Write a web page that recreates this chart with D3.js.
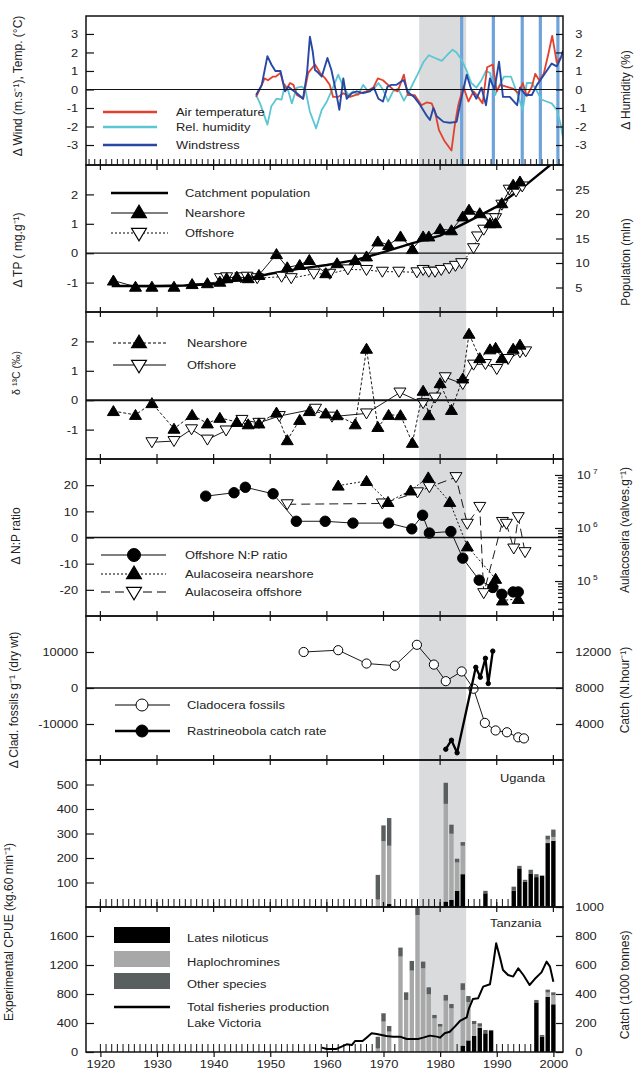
<!DOCTYPE html>
<html lang="en">
<head>
<meta charset="UTF-8">
<title>Lake Victoria records</title>
<script src="https://d3js.org/d3.v7.min.js"></script>
<style>
  body { margin: 0; background: #fff; }
  svg { display: block; font-family: "Liberation Sans", Arial, sans-serif; }
  .axis path { display: none; }
  .axis line { stroke: #111; stroke-width: 1.2px; }
  .axis text { font-size: 11.5px; fill: #222; font-family: "Liberation Sans", Arial, sans-serif; }
  text { fill: #222; }
</style>
</head>
<body>
<script>
// ---------- data ----------
const decades = [1920, 1930, 1940, 1950, 1960, 1970, 1980, 1990, 2000];
const shade = [1976.3, 1984.6];
const blueYears = [1983.8, 1989.4, 1994.5, 1997.7, 2000.8];

const airTemp = [[1947.5,-0.4],[1948.3,0.1],[1949.0,0.6],[1949.6,0.5],[1950.5,0.7],[1951.0,0.7],[1951.8,0.9],[1952.3,0.35],[1952.9,0.05],[1953.5,0.35],[1954.1,0.25],[1954.7,-0.3],[1955.8,-0.5],[1956.7,0.9],[1957.9,1.35],[1958.8,0.9],[1959.7,0.6],[1960.5,0.25],[1961.1,-0.4],[1962.0,-0.4],[1962.9,-0.2],[1964.1,-0.4],[1965.0,-0.3],[1966.0,-0.2],[1967.0,-0.1],[1968.2,0.1],[1969.0,0.6],[1969.9,0.5],[1970.8,0.25],[1971.7,0.0],[1972.5,-0.1],[1973.6,0.8],[1974.3,-0.3],[1975.5,-0.3],[1976.7,-0.85],[1977.6,-0.7],[1978.5,-0.75],[1979.1,-1.2],[1979.8,-2.2],[1980.8,-2.8],[1982.0,-3.3],[1982.6,-1.9],[1983.2,-0.85],[1984.1,0.15],[1985.0,-0.65],[1985.9,-0.1],[1986.7,-0.4],[1987.5,-0.75],[1988.3,1.2],[1989.3,1.35],[1990.0,-0.1],[1990.6,0.25],[1991.7,0.15],[1992.9,0.05],[1993.8,-0.2],[1994.6,0.35],[1995.3,-0.35],[1996.2,0.15],[1996.8,0.85],[1997.5,0.5],[1998.3,0.85],[1999.1,1.9],[1999.8,2.9],[2000.6,1.45],[2001.2,1.7]];
const relHumidity = [[1947.5,-0.3],[1948.2,-0.75],[1949.5,-1.9],[1950.2,-0.9],[1951.1,-0.5],[1952.0,-0.55],[1952.6,0.25],[1953.2,-0.1],[1953.8,-0.75],[1954.7,0.1],[1955.6,0.15],[1956.2,0.0],[1957.0,-1.2],[1958.1,-2.1],[1959.1,-1.1],[1960.0,-0.65],[1961.0,0.05],[1962.0,0.8],[1962.9,0.15],[1963.8,-0.3],[1964.7,-0.1],[1965.5,-0.3],[1966.4,0.25],[1967.3,-0.1],[1968.2,0.0],[1969.1,0.35],[1969.9,0.0],[1970.8,-0.65],[1971.7,-0.1],[1972.6,0.05],[1973.6,-0.6],[1974.7,0.0],[1975.5,0.5],[1976.0,0.8],[1977.1,1.5],[1978.0,1.85],[1979.1,1.7],[1980.3,1.55],[1981.2,1.85],[1982.2,2.15],[1982.9,2.0],[1983.8,1.6],[1984.7,1.0],[1985.5,0.35],[1986.4,0.1],[1987.3,0.5],[1988.1,1.0],[1988.8,0.9],[1989.7,-0.3],[1990.5,0.25],[1991.3,0.7],[1992.5,0.7],[1993.3,0.05],[1994.6,-1.1],[1995.3,0.35],[1996.2,0.35],[1997.1,-0.1],[1997.9,-0.55],[1998.8,-0.65],[1999.7,-0.75],[2000.6,-1.1],[2001.3,-1.9],[2001.8,-2.8]];
const windStress = [[1947.5,-0.3],[1948.5,0.25],[1949.5,1.8],[1950.2,1.35],[1950.9,1.0],[1951.8,1.0],[1952.6,-0.1],[1953.2,0.15],[1953.8,0.0],[1954.7,-0.2],[1955.8,-0.5],[1956.5,0.9],[1957.0,2.85],[1957.5,2.05],[1957.9,1.05],[1958.5,0.9],[1959.1,0.7],[1960.1,1.7],[1960.8,1.05],[1961.6,-0.1],[1962.2,-1.1],[1962.9,0.6],[1963.5,-0.5],[1964.4,-0.2],[1965.3,-0.1],[1966.4,-0.2],[1967.6,-0.1],[1968.3,0.1],[1969.1,-0.5],[1969.9,-0.65],[1970.7,0.15],[1971.4,0.25],[1972.3,0.25],[1973.2,0.45],[1973.6,0.5],[1974.3,-0.15],[1975.4,-0.4],[1976.5,-0.85],[1977.6,-1.4],[1978.2,-1.65],[1978.8,-1.0],[1979.4,-1.45],[1980.6,-1.75],[1981.7,-1.8],[1982.9,-1.75],[1983.8,-0.4],[1984.7,0.8],[1985.5,0.0],[1986.4,-0.5],[1987.3,0.1],[1988.1,-0.85],[1988.8,0.6],[1989.6,0.0],[1990.4,1.5],[1991.1,-0.4],[1992.3,-0.4],[1993.6,-0.85],[1994.1,0.1],[1995.1,-0.3],[1996.2,-0.3],[1997.1,0.25],[1997.9,0.6],[1998.8,1.0],[1999.7,1.4],[2000.6,1.25],[2001.3,1.7],[2001.7,2.1]];

const popYears = [1922, 1930, 1935, 1940, 1945, 1950, 1955, 1960, 1965, 1970, 1975, 1980, 1985, 1990, 1995, 2000];
const popMln   = [5.3, 5.3, 5.4, 5.7, 6.6, 7.8, 8.8, 9.6, 10.6, 12.2, 14.0, 15.6, 18.5, 21.5, 25.8, 30.5];
const tpNear = [[1922.3,-0.93],[1926.2,-1.14],[1929.1,-1.14],[1933,-1.14],[1936.2,-1.05],[1938.9,-1.02],[1941.1,-0.97],[1942.3,-0.85],[1944.1,-0.8],[1946.1,-0.85],[1948,-0.74],[1951.1,-0.03],[1953,-0.48],[1955.2,-0.4],[1956.9,-0.23],[1959.8,-0.68],[1961.8,-0.34],[1965,-0.23],[1967,-0.11],[1969,0.4],[1970.9,0.28],[1973,0.57],[1975.1,0.14],[1977,0.57],[1978,0.57],[1980,0.82],[1982,0.78],[1984,1.25],[1985.1,1.48],[1987,1.36],[1988.8,1.02],[1989.8,1.02],[1990.9,1.7],[1992.9,2.33],[1994.1,2.44]];
const tpOff = [[1941.2,-0.85],[1942.3,-0.82],[1944.8,-0.82],[1945.9,-0.8],[1947.7,-0.85],[1952,-0.8],[1953.7,-0.85],[1957.7,-0.7],[1960.5,-0.7],[1963.7,-0.55],[1967,-0.57],[1969.8,-0.63],[1972.7,-0.63],[1975.9,-0.65],[1977,-0.57],[1978,-0.63],[1979.1,-0.63],[1980.2,-0.57],[1981.6,-0.51],[1982.7,-0.43],[1983.8,-0.34],[1985.9,0.17],[1986.6,0.57],[1987.7,0.8],[1988.8,1.19],[1989.8,1.19],[1990.9,1.65],[1992.2,2.16],[1993.4,2.1],[1994.5,2.27]];

const c13Near = [[1922.3,-0.37],[1926.2,-0.5],[1929.1,-0.1],[1933,-0.97],[1936.2,-0.5],[1938.9,-0.79],[1941.1,-0.6],[1944.1,-0.74],[1946.1,-0.82],[1948,-0.79],[1951.1,-0.42],[1953,-1.36],[1955.2,-0.67],[1956.9,-0.37],[1959.8,-0.45],[1961.8,-0.51],[1965,-0.82],[1967,1.75],[1969,-0.91],[1970.9,-0.5],[1973,-0.51],[1975.1,-1.45],[1977,0.32],[1978,-0.51],[1980,0.58],[1982,-0.33],[1984,0.74],[1985.1,2.26],[1987,1.43],[1988.8,1.73],[1989.8,1.78],[1990.9,1.43],[1992.9,1.75],[1994.1,1.89]];
const c13Off = [[1929.1,-1.43],[1933,-1.39],[1936.1,-0.99],[1938.9,-1.34],[1942.2,-1.03],[1945,-0.67],[1948,-0.77],[1951.6,-0.54],[1958,-0.29],[1960.9,-0.56],[1967,-0.45],[1972.9,0.26],[1977,-0.1],[1979.1,0.09],[1980.9,0.78],[1984,0.55],[1985.9,1.21],[1988,1.23],[1990,1.06],[1992,1.4],[1994.1,1.63],[1995.1,1.66]];

const npOffshore = [[1938.6,15.8],[1943.6,17.1],[1945.6,19.2],[1950.5,16.7],[1954.6,6.2],[1959.7,6.2],[1964.6,5.5],[1970.9,5.5],[1975,3.3],[1976.9,8.5],[1978.1,1.7],[1981.9,2.3],[1984,-7.9],[1986.9,-16.3],[1989.3,-19.1],[1990.9,-21.7],[1992.9,-20.8],[1993.8,-20.8]];
const aulNear = [[1962,6.3e6],[1967,7.7e6],[1970.8,3.1e6],[1974.8,5.1e6],[1977.9,9.0e6],[1981.7,3.1e6],[1984.8,4.5e5],[1989.8,1.1e5],[1991,4.3e4],[1993.8,4.6e4]];
const aulOff = [[1953,2.8e6],[1969.8,2.9e6],[1976,4.7e6],[1978.1,5.9e6],[1982.8,9.1e6],[1984.8,1.2e6],[1987,2.5e6],[1987.7,5.9e4],[1991,1.3e6],[1991.7,1.2e6],[1993,4.1e5],[1993.8,1.6e6],[1995,3.5e5]];

const cladocera = [[1955.9,10000],[1962,10500],[1967,6800],[1972,6200],[1975.9,12000],[1978.9,6500],[1981,1900],[1983.8,4600],[1985.9,-200],[1987.9,-9700],[1989.8,-11800],[1991.8,-12300],[1993.8,-13700],[1994.8,-14000]];
const rastrineobola = [[1981,1200],[1982,2200],[1983,800],[1986.3,10300],[1987.1,9200],[1988,11300],[1988.5,8500],[1989.3,12100]];

const ugYears = [1969, 1970, 1971, 1981, 1982, 1983, 1984, 1988, 1993, 1994, 1995, 1996, 1997, 1998, 1999, 2000];
const ugLates = [0, 0, 12, 22, 29, 66, 134, 56, 66, 158, 103, 135, 122, 128, 261, 270];
const ugHaplo = [31, 268, 238, 399, 270, 116, 116, 0, 0, 0, 0, 0, 0, 0, 14, 16];
const ugOther = [100, 65, 113, 86, 37, 15, 15, 10, 17, 10, 8, 17, 12, 0, 16, 30];

const tzYears = [1969, 1970, 1971, 1973, 1974, 1975, 1976, 1977, 1978, 1979, 1980, 1981, 1982, 1984, 1985, 1986, 1987, 1988, 1989, 1997, 1998, 1999, 2000];
const tzLates = [0, 0, 0, 0, 0, 0, 0, 0, 0, 0, 0, 0, 0, 87, 160, 225, 336, 258, 290, 685, 212, 760, 658];
const tzHaplo = [50, 419, 281, 1316, 718, 1122, 1890, 1155, 796, 465, 350, 708, 603, 769, 530, 161, 14, 0, 0, 0, 0, 60, 125];
const tzOther = [160, 115, 78, 124, 105, 134, 150, 92, 96, 46, 36, 79, 59, 92, 82, 42, 46, 46, 14, 33, 23, 40, 40];

const fishProd = [[1959.1,30],[1960,21],[1961.7,21],[1962.6,37],[1963.5,53],[1964.4,48],[1965,76],[1966.3,76],[1967,99],[1967.9,129],[1968.8,124],[1970.5,110],[1971.7,106],[1972.9,106],[1974.1,90],[1976.1,90],[1977,99],[1978.2,113],[1979.4,106],[1980,99],[1980.8,129],[1981.7,140],[1982.6,175],[1983.5,214],[1984.7,239],[1985.1,301],[1985.8,366],[1986.7,370],[1987.6,451],[1988.8,467],[1989.4,612],[1989.9,750],[1990.6,646],[1991.1,566],[1992,531],[1992.9,520],[1993.8,577],[1994.7,531],[1995.8,462],[1996.7,503],[1997.9,549],[1998.8,623],[1999.4,589],[2000,485]];

// ---------- layout ----------
const W = 635, H = 1071, L = 86, R = 563;
const rows = [[16,165],[165,312],[312,459],[459,616],[616,760],[760,907],[907,1052]];

const svg = d3.select("body").append("svg").attr("width", W).attr("height", H);
const x = d3.scaleLinear().domain([1917.46, 2001.7]).range([L, R]);

const y1 = d3.scaleLinear().domain([-4.08, 3.97]).range([165, 16]);
const y2 = d3.scaleLinear().domain([-2, 3]).range([312, 165]);
const pop = d3.scaleLinear().domain([0, 30]).range([312, 165]);
const y3 = d3.scaleLinear().domain([-2, 3]).range([459, 312]);
const y4 = d3.scaleLinear().domain([-30, 30]).range([616, 459]);
const aul = d3.scaleLog().domain([21900, 2.0e7]).range([616, 459]);
const y5 = d3.scaleLinear().domain([-20000, 20000]).range([760, 616]);
const catchS = d3.scaleLinear().domain([0, 16000]).range([760, 616]);
const y6 = d3.scaleLinear().domain([0, 600]).range([907, 760]);
const y7 = d3.scaleLinear().domain([0, 2000]).range([1052, 907]);
const prod = d3.scaleLinear().domain([0, 1000]).range([1052, 907]);

const defs = svg.append("defs");
rows.forEach((r, i) => {
    defs.append("clipPath").attr("id", "clip" + i)
        .append("rect").attr("x", L).attr("y", r[0]).attr("width", R - L).attr("height", r[1] - r[0]);
});
const panel = i => svg.append("g").attr("clip-path", `url(#clip${i})`);

// grey period band
svg.append("rect")
    .attr("x", x(shade[0])).attr("width", x(shade[1]) - x(shade[0]))
    .attr("y", rows[0][0]).attr("height", rows[6][1] - rows[0][0])
    .attr("fill", "#d9dbdd");

// helpers
const UP = "M0,-5.5L6,4.5L-6,4.5Z";
const DOWN = "M-6,-4.5L6,-4.5L0,5.5Z";

function drawLine(g, data, ys, stroke, sw, dash) {
    g.append("path").datum(data)
        .attr("d", d3.line().x(d => x(d[0])).y(d => ys(d[1])))
        .attr("fill", "none").attr("stroke", stroke).attr("stroke-width", sw)
        .attr("stroke-dasharray", dash || null).attr("stroke-linejoin", "round");
}
function drawMarks(g, data, ys, shape, fill) {
    g.selectAll(null).data(data).enter().append("path")
        .attr("d", shape).attr("transform", d => `translate(${x(d[0])},${ys(d[1])})`)
        .attr("fill", fill).attr("stroke", "#000").attr("stroke-width", 1);
}
function drawDots(g, data, ys, r, fill) {
    g.selectAll(null).data(data).enter().append("circle")
        .attr("cx", d => x(d[0])).attr("cy", d => ys(d[1])).attr("r", r)
        .attr("fill", fill).attr("stroke", "#000").attr("stroke-width", 1);
}
function zeroLine(ys, sw) {
    svg.append("line").attr("x1", L).attr("x2", R).attr("y1", ys(0)).attr("y2", ys(0))
        .attr("stroke", "#111").attr("stroke-width", sw);
}
function txt(px, py, s, size, anchor) {
    return svg.append("text").attr("transform", `translate(${px},${py}) scale(1.12,1)`)
        .attr("font-size", size || 11.5).attr("text-anchor", anchor || "start").text(s);
}
function vtxt(px, py, s, size) {
    return svg.append("text").attr("transform", `translate(${px},${py}) rotate(-90)`)
        .attr("font-size", size || 12).attr("text-anchor", "middle").text(s);
}
function leftAxis(scale, ticks) {
    svg.append("g").attr("class", "axis").attr("transform", `translate(${L},0)`)
        .call(d3.axisLeft(scale).tickValues(ticks).tickSizeInner(-8).tickSizeOuter(0).tickPadding(7).tickFormat(d => String(d)))
        .selectAll("text").attr("transform", "scale(1.12,1)");
}
function rightAxis(scale, ticks, size) {
    svg.append("g").attr("class", "axis").attr("transform", `translate(${R},0)`)
        .call(d3.axisRight(scale).tickValues(ticks).tickSizeInner(-(size || 7)).tickSizeOuter(0).tickPadding(11).tickFormat(d => String(d)))
        .selectAll("text").attr("transform", "scale(1.12,1)");
}

// ---------- panel 1 : climate ----------
const g1 = panel(0);
blueYears.forEach(b => g1.append("line").attr("x1", x(b)).attr("x2", x(b)).attr("y1", 16).attr("y2", 165)
    .attr("stroke", "#6fa3d9").attr("stroke-width", 3.2));
zeroLine(y1, 1.2);
drawLine(g1, relHumidity, y1, "#5cc6d3", 1.8);
drawLine(g1, airTemp, y1, "#e2412f", 1.8);
drawLine(g1, windStress, y1, "#2748a5", 1.9);

// ---------- panel 2 : TP ----------
const g2 = panel(1);
zeroLine(y2, 1.2);
drawLine(g2, popYears.map((d, i) => [d, popMln[i]]), pop, "#000", 2.4);
drawLine(g2, tpOff, y2, "#000", 0.9, "2,2");
drawMarks(g2, tpOff, y2, DOWN, "#fff");
drawLine(g2, tpNear, y2, "#000", 0.9);
drawMarks(g2, tpNear, y2, UP, "#000");

// ---------- panel 3 : d13C ----------
const g3 = panel(2);
zeroLine(y3, 2);
drawLine(g3, c13Near, y3, "#000", 0.9, "3,2");
drawLine(g3, c13Off, y3, "#000", 0.9);
drawMarks(g3, c13Off, y3, DOWN, "#fff");
drawMarks(g3, c13Near, y3, UP, "#000");

// ---------- panel 4 : N:P and Aulacoseira ----------
const g4 = panel(3);
zeroLine(y4, 1.5);
drawLine(g4, aulOff, aul, "#000", 0.9, "9,5");
drawLine(g4, aulNear, aul, "#000", 0.9, "2,2");
drawLine(g4, npOffshore, y4, "#000", 0.9);
drawDots(g4, npOffshore, y4, 5.2, "#000");
drawMarks(g4, aulOff, aul, DOWN, "#fff");
drawMarks(g4, aulNear, aul, UP, "#000");

// ---------- panel 5 : Cladocera and Rastrineobola ----------
const g5 = panel(4);
zeroLine(y5, 1.5);
drawLine(g5, cladocera, y5, "#000", 0.9);
drawDots(g5, cladocera, y5, 4.6, "#fff");
drawLine(g5, rastrineobola, catchS, "#000", 2.3);
drawDots(g5, rastrineobola, catchS, 2.2, "#000");

// ---------- panels 6/7 : CPUE bars ----------
const barColors = { lates: "#000", haplo: "#a8a8a8", other: "#595e5e" };
function bars(g, ys, years, lates, haplo, other) {
    const bw = 4.4;
    years.forEach((yr, i) => {
        const segs = [["lates", 0, lates[i]], ["haplo", lates[i], lates[i] + haplo[i]],
                      ["other", lates[i] + haplo[i], lates[i] + haplo[i] + other[i]]];
        segs.forEach(s => {
            if (s[2] <= s[1]) return;
            g.append("rect").attr("x", x(yr) - bw / 2).attr("width", bw)
                .attr("y", ys(s[2])).attr("height", ys(s[1]) - ys(s[2]))
                .attr("fill", barColors[s[0]]);
        });
    });
}
function yearTicks(yBase, len, from, to) {
    for (let yr = from; yr <= to; yr++) {
        svg.append("line").attr("x1", x(yr)).attr("x2", x(yr)).attr("y1", yBase).attr("y2", yBase - len)
            .attr("stroke", "#111").attr("stroke-width", 1);
    }
}
yearTicks(907, 8, 1920, 2000);
yearTicks(1052, 8, 1920, 2000);
const g6 = panel(5);
bars(g6, y6, ugYears, ugLates, ugHaplo, ugOther);
const g7 = panel(6);
bars(g7, y7, tzYears, tzLates, tzHaplo, tzOther);
drawLine(g7, fishProd, prod, "#000", 2);

// ---------- frames and ticks ----------
yearTicks(165, 6, 1918, 2001);
rows.forEach(r => {
    svg.append("rect").attr("x", L).attr("y", r[0]).attr("width", R - L).attr("height", r[1] - r[0])
        .attr("fill", "none").attr("stroke", "#111").attr("stroke-width", 1.5);
});
rows.slice(1).forEach(r => {
    decades.forEach(dc => svg.append("line").attr("x1", x(dc)).attr("x2", x(dc))
        .attr("y1", r[0] - 5).attr("y2", r[0] + 5).attr("stroke", "#111").attr("stroke-width", 1.2));
});
svg.append("g").attr("class", "axis").attr("transform", "translate(0,1052)")
    .call(d3.axisBottom(x).tickValues(decades).tickSizeInner(5).tickSizeOuter(0).tickPadding(3).tickFormat(d => String(d)))
    .selectAll("text").attr("transform", "scale(1.12,1)");

leftAxis(y1, [-3, -2, -1, 0, 1, 2, 3]);
rightAxis(y1, [-3, -2, -1, 0, 1, 2, 3]);
leftAxis(y2, [-1, 0, 1, 2]);
rightAxis(pop, [5, 10, 15, 20, 25]);
leftAxis(y3, [-1, 0, 1, 2]);
leftAxis(y4, [-20, -10, 0, 10, 20]);
leftAxis(y5, [-10000, 0, 10000]);
rightAxis(catchS, [4000, 8000, 12000]);
leftAxis(y6, [100, 200, 300, 400, 500]);
leftAxis(y7, [0, 400, 800, 1200, 1600]);
rightAxis(prod, [0, 200, 400, 600, 800, 1000]);

// log axis for Aulacoseira
const logMinor = [];
[1e4, 1e5, 1e6, 1e7].forEach(dec => { for (let k = 2; k <= 9; k++) { const v = dec * k; if (v > 21900 && v < 2.0e7) logMinor.push(v); } });
svg.append("g").attr("class", "axis").attr("transform", `translate(${R},0)`)
    .call(d3.axisRight(aul).tickValues(logMinor).tickSizeInner(-5).tickSizeOuter(0).tickFormat(""));
svg.append("g").attr("class", "axis").attr("transform", `translate(${R},0)`)
    .call(d3.axisRight(aul).tickValues([1e5, 1e6, 1e7]).tickSizeInner(-8).tickSizeOuter(0).tickFormat(""));
[[1e5, "5"], [1e6, "6"], [1e7, "7"]].forEach(p => {
    const t = txt(577, aul(p[0]) + 4, "10", 11);
    t.append("tspan").attr("dx", 2).attr("dy", -5).attr("font-size", 7.5).text(p[1]);
});

// ---------- axis titles ----------
vtxt(22, 86, "Δ Wind (m.s⁻¹), Temp.  (°C)");
vtxt(630, 90, "Δ Humidity  (%)");
vtxt(22, 250, "Δ TP ( mg.g⁻¹)");
vtxt(630, 262, "Population  (mln)");
vtxt(20, 373, "δ ¹³C (‰)", 10.5);
vtxt(20, 536, "Δ N:P ratio");
vtxt(629, 530, "Aulacoseira  (valves.g⁻¹)");
vtxt(18, 700, "Δ Clad. fossils g⁻¹ (dry wt)");
vtxt(629, 690, "Catch  (N.hour⁻¹)");
vtxt(13, 932, "Experimental  CPUE  (kg.60  min⁻¹)");
vtxt(629, 985, "Catch  (1000  tonnes)");

txt(500, 782, "Uganda", 11.5);
txt(490, 927, "Tanzania", 11.5);

// ---------- legends ----------
function legLine(x1, x2, yy, stroke, sw, dash) {
    svg.append("line").attr("x1", x1).attr("x2", x2).attr("y1", yy).attr("y2", yy)
        .attr("stroke", stroke).attr("stroke-width", sw).attr("stroke-dasharray", dash || null);
}
function legMark(cx, cy, shape, fill, scale) {
    svg.append("path").attr("d", shape).attr("transform", `translate(${cx},${cy}) scale(${scale || 1.25})`)
        .attr("fill", fill).attr("stroke", "#000").attr("stroke-width", 0.9);
}
function legDot(cx, cy, r, fill) {
    svg.append("circle").attr("cx", cx).attr("cy", cy).attr("r", r).attr("fill", fill).attr("stroke", "#000").attr("stroke-width", 1);
}

// panel 1
[["Air temperature", "#e2412f", 112], ["Rel. humidity", "#5cc6d3", 127], ["Windstress", "#2748a5", 145]].forEach(d => {
    legLine(103, 157, d[2], d[1], 2.5);
    txt(176, d[2] + 4, d[0]);
});
// panel 2
legLine(111, 168, 193, "#000", 2.5); txt(185, 197, "Catchment  population");
legLine(111, 168, 213, "#000", 1); legMark(139, 212, UP, "#000"); txt(185, 217, "Nearshore");
legLine(111, 168, 233, "#000", 1, "2,2"); legMark(139, 234, DOWN, "#fff"); txt(185, 237, "Offshore");
// panel 3
legLine(113, 166, 343, "#000", 1, "3,2"); legMark(139, 342, UP, "#000"); txt(187, 347, "Nearshore");
legLine(113, 166, 365, "#000", 1); legMark(139, 366, DOWN, "#fff"); txt(187, 369, "Offshore");
// panel 4
legLine(101, 166, 555, "#000", 1); legDot(134, 555, 6.5, "#000"); txt(185, 559, "Offshore N:P ratio");
legLine(101, 166, 574, "#000", 1, "2,2"); legMark(134, 573, UP, "#000"); txt(185, 578, "Aulacoseira nearshore");
legLine(101, 166, 592, "#000", 1, "9,5"); legMark(134, 593, DOWN, "#fff"); txt(185, 596, "Aulacoseira offshore");
// panel 5
legLine(115, 170, 705, "#000", 1); legDot(142, 705, 6, "#fff"); txt(187, 709, "Cladocera  fossils");
legLine(115, 170, 731, "#000", 2.5); legDot(142, 731, 6, "#000"); txt(187, 735, "Rastrineobola  catch  rate");
// panel 7
[["Lates  niloticus", "lates", 927, 938], ["Haplochromines", "haplo", 951, 962], ["Other  species", "other", 973, 984]].forEach(d => {
    svg.append("rect").attr("x", 114).attr("y", d[2]).attr("width", 56).attr("height", 16).attr("fill", barColors[d[1]]);
    txt(187, d[3] + 4, d[0]);
});
legLine(114, 170, 1007, "#000", 2.5);
txt(187, 1011, "Total fisheries production");
txt(187, 1027, "Lake Victoria");
</script>
</body>
</html>
